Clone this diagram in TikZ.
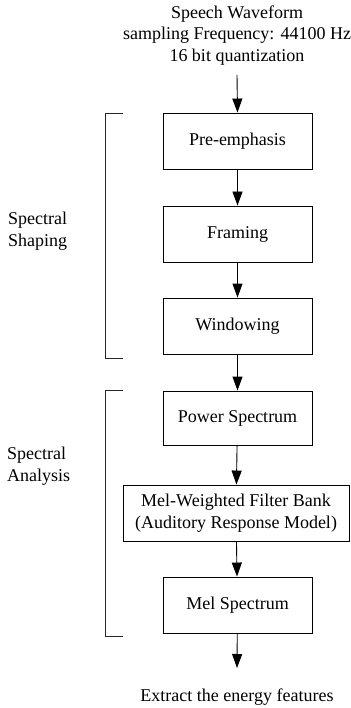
\documentclass[tikz,border=0pt]{standalone}
\usepackage{fontspec}
\setmainfont{Liberation Serif}
\usetikzlibrary{arrows.meta}
\begin{document}
\begin{tikzpicture}[x=1pt,y=-1pt,
  txt/.style={font=\fontsize{18}{21.5}\selectfont},
  stepbox/.style={txt,draw=black,line width=0.9pt,minimum width=149pt,minimum height=56pt,inner sep=0pt,align=center},
  flow/.style={line width=0.9pt,-{Triangle[length=14pt,width=10pt]}},
  brack/.style={line width=0.9pt,draw=black!85},
  lbl/.style={txt,align=left,inner sep=0pt}]
\useasboundingbox (0,0) rectangle (350,708);
\node[txt,align=center,inner sep=0pt] (title) at (237,35.5) {Speech Waveform\\sampling Frequency: 44100 Hz\\16 bit quantization};
\coordinate (tstart) at (237,75);
\node[stepbox] (pre) at (237.5,141) {Pre-emphasis};
\node[stepbox] (frm) at (237.5,234) {Framing};
\node[stepbox] (win) at (237.5,326) {Windowing};
\node[stepbox,minimum height=54pt] (pow) at (237.5,418) {Power Spectrum};
\node[stepbox,minimum width=226pt] (mel) at (236,513) {Mel-Weighted Filter Bank\\(Auditory Response Model)};
\node[stepbox] (mspec) at (237.5,605) {Mel Spectrum};
\coordinate (endpt) at (237,668);
\node[txt,inner sep=0pt] (extract) at (237,697) {Extract the energy features};
\draw[flow] (tstart) -- (pre.north);
\draw[flow] (pre) -- (frm);
\draw[flow] (frm) -- (win);
\draw[flow] (win) -- (pow);
\draw[flow] (pow) -- (mel);
\draw[flow] (mel) -- (mspec);
\draw[flow] (mspec) -- (endpt);
% brackets
\coordinate (b1t) at (123,113);
\coordinate (b1b) at (123,358);
\draw[brack] (b1t) -- (105,113) -- (105,358) -- (b1b);
\coordinate (b2t) at (123,390);
\coordinate (b2b) at (123,636);
\draw[brack] (b2t) -- (105,390) -- (105,636) -- (b2b);
\node[lbl,anchor=west] (ss) at (8,231) {Spectral\\Shaping};
\node[lbl,anchor=west] (sa) at (7,466) {Spectral\\Analysis};
\end{tikzpicture}
\end{document}
